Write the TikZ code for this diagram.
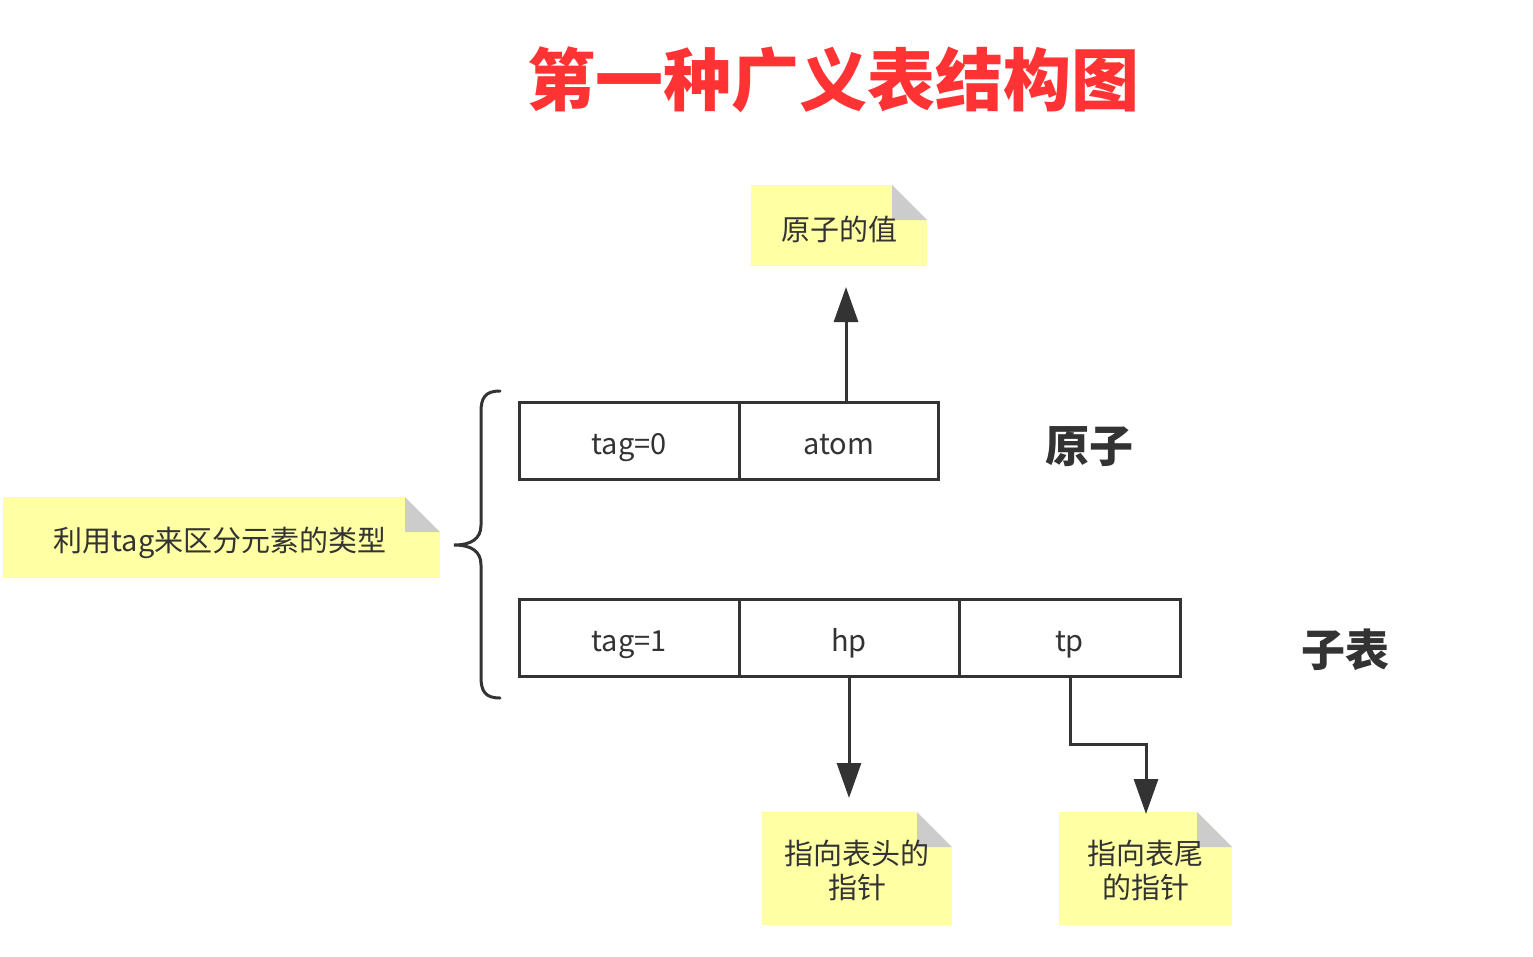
\documentclass[tikz,border=0pt]{standalone}
\usepackage{fontspec}
\setmainfont{Noto Sans CJK SC}
\usetikzlibrary{arrows.meta}
\definecolor{ink}{HTML}{333333}
\definecolor{notey}{HTML}{FFFFA3}
\definecolor{foldg}{HTML}{CCCCCC}
\definecolor{titler}{HTML}{FF3333}
\newcommand\dnshift[2]{\raisebox{-#1pt}[\height][\depth]{#2}}
\newcommand\celltxt[1]{\dnshift{6}{\vphantom{tag=0h}#1}}
\begin{document}
\begin{tikzpicture}[x=1pt,y=-1pt,
  cell/.style={draw=ink, line width=3pt, minimum height=77pt, inner sep=0pt, text=ink, font=\fontsize{29}{34}\selectfont},
  note/.style={fill=notey, inner sep=0pt, text=ink, align=center, font=\fontsize{29}{34}\selectfont,
    path picture={
      \fill[white] ([xshift=-35pt]path picture bounding box.north east) -- (path picture bounding box.north east) -- ([yshift=-35pt]path picture bounding box.north east) -- cycle;
      \fill[foldg] ([xshift=-35pt]path picture bounding box.north east) -- ([xshift=-35pt,yshift=-35pt]path picture bounding box.north east) -- ([yshift=-35pt]path picture bounding box.north east) -- cycle;
    }},
  lbl/.style={text=ink, font=\fontsize{44}{50}\selectfont\bfseries},
  arr/.style={draw=ink, line width=3pt, -{Triangle[length=35pt,width=24pt]}}
]
\useasboundingbox (0,0) rectangle (1533,956);
\fill[white] (0,0) rectangle (1533,956);

% title
\node[text=titler, font=\fontsize{68}{72}\selectfont\bfseries] (title) at (833,80) {第一种广义表结构图};

% notes
\node[note, minimum width=176pt, minimum height=81pt] (n1) at (839,225.5) {\dnshift{4}{原子的值}};
\node[note, minimum width=437pt, minimum height=81pt] (n2) at (221.5,537.5) {\hspace*{-3pt}\dnshift{5}{利用tag来区分元素的类型}};
\node[note, minimum width=190pt, minimum height=113pt] (n3) at (857,868.5) {\dnshift{1.5}{指向表头的}\\\dnshift{1.5}{指针}};
\node[note, minimum width=173pt, minimum height=113pt] (n4) at (1145.5,868.5) {\dnshift{1.5}{指向表尾}\\\dnshift{1.5}{的指针}};

% row 1
\node[cell, minimum width=220pt] (c1) at (629,440.5) {\celltxt{tag=0}};
\node[cell, minimum width=199pt] (c2) at (838.5,440.5) {\celltxt{atom}};
% row 2
\node[cell, minimum width=220pt] (d1) at (629,638) {\celltxt{tag=1}};
\node[cell, minimum width=220pt] (d2) at (849,638) {\celltxt{hp}};
\node[cell, minimum width=221pt] (d3) at (1069.5,638) {\celltxt{tp}};

% labels
\node[lbl] (l1) at (1089,447) {原子};
\node[lbl] (l2) at (1345,650) {子表};

% brace
\draw[ink, line width=3pt, line cap=round] (500,391) .. controls (485,391) and (481,398) .. (481,412) -- (481,525) .. controls (481,539) and (471,545) .. (454,545) .. controls (471,545) and (481,551) .. (481,565) -- (481,677) .. controls (481,691) and (485,698) .. (500,698);

% arrows
\coordinate (t1) at (846,287);
\draw[arr] (c2.north -| t1) -- (t1);
\coordinate (t2) at (849,798);
\draw[arr] (d2.south -| t2) -- (t2);
\coordinate (b3) at (1070,744);
\coordinate (t3) at (1146,814);
\draw[arr] (d3.south -| b3) -- (b3) -| (t3);
\end{tikzpicture}
\end{document}
